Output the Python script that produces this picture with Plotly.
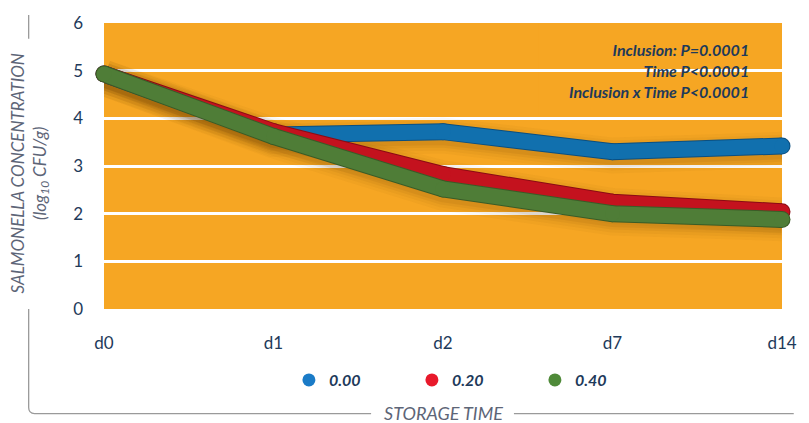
import plotly.graph_objects as go

# ---------------- data ----------------
days = ["d0", "d1", "d2", "d7", "d14"]
inclusion_000 = [4.93, 3.65, 3.72, 3.30, 3.42]
inclusion_020 = [4.93, 3.72, 2.82, 2.24, 2.04]
inclusion_040 = [4.93, 3.62, 2.52, 2.00, 1.88]
series_names = ["0.00", "0.20", "0.40"]
series_values = [inclusion_000, inclusion_020, inclusion_040]
line_colors = ["#1170ae", "#c4121e", "#4f7d37"]
edge_colors = ["#0b4f80", "#8a0c14", "#3a5c27"]
legend_colors = ["#1a7bc7", "#e8192b", "#4f8a39"]
y_ticks = [0, 1, 2, 3, 4, 5, 6]
stats_lines = ["Inclusion: P=0.0001", "Time P<0.0001", "Inclusion x Time P<0.0001"]

# ---------------- layout geometry (pixels) ----------------
W, H = 809, 423
L, R, T, B = 104, 12, 19, 114
PW, PH = W - L - R, H - T - B


def px(xp):
    return (xp - L) / PW


def py(yp):
    return (H - B - yp) / PH


ORANGE = "#f6a623"
NAVY = "#1e3a5a"
GREY = "#5d6577"
FONT = "Lato"

fig = go.Figure()

# soft shadows
for vals in series_values:
    shadow = [v - 0.08 for v in vals]
    for w, a in [(36, 0.035), (30, 0.045), (24, 0.06), (19, 0.07)]:
        fig.add_trace(go.Scatter(
            x=days, y=shadow, mode="lines",
            line=dict(color=f"rgba(90,45,0,{a})", width=w, shape="linear"),
            hoverinfo="skip", showlegend=False, cliponaxis=False))

# main lines (edge + fill)
for name, vals, col, edge in zip(series_names, series_values, line_colors, edge_colors):
    fig.add_trace(go.Scatter(
        x=days, y=vals, mode="lines+markers",
        line=dict(color=edge, width=17),
        marker=dict(color=edge, size=17, line=dict(width=0)),
        hoverinfo="skip", showlegend=False, cliponaxis=False))
    fig.add_trace(go.Scatter(
        x=days, y=vals, mode="lines+markers", name=name,
        line=dict(color=col, width=15),
        marker=dict(color=col, size=15, line=dict(width=0)),
        showlegend=False, cliponaxis=False))

# legend entries (dots only)
for name, col in zip(series_names, legend_colors):
    fig.add_trace(go.Scatter(
        x=[None], y=[None], mode="markers", name=name,
        marker=dict(color=col, size=13, symbol="circle")))

shapes = [
    # box behind the statistics text (hides the gridline at 5)
    dict(type="rect", xref="paper", yref="y", x0=px(548), x1=1.0, y0=4.06, y1=6,
         fillcolor=ORANGE, line=dict(width=0), layer="between"),
    # bracket lines
    dict(type="line", xref="paper", yref="paper", x0=px(27), x1=px(27), y0=py(11), y1=py(35),
         line=dict(color="#9a9a9a", width=1.3)),
    dict(type="path", xref="paper", yref="paper",
         path=f"M {px(27)},{py(309)} L {px(27)},{py(409)} Q {px(27)},{py(415)} {px(33)},{py(415)} L {px(377)},{py(415)}",
         line=dict(color="#9a9a9a", width=1.3)),
    dict(type="line", xref="paper", yref="paper", x0=px(523), x1=px(809), y0=py(415), y1=py(415),
         line=dict(color="#9a9a9a", width=1.3)),
]

annotations = [
    dict(text="<br>".join(f"<b><i>{s}</i></b>" for s in stats_lines),
         xref="paper", yref="paper", x=px(765), y=py(67.5), xanchor="right", yanchor="middle",
         align="right", showarrow=False, font=dict(family=FONT, size=16, color=NAVY)),
    dict(text="<i>SALMONELLA CONCENTRATION<br>(log<sub>10</sub> CFU/g)</i>",
         xref="paper", yref="paper", x=px(28), y=py(172), xanchor="center", yanchor="middle",
         textangle=-90, showarrow=False, font=dict(family=FONT, size=17, color=GREY)),
    dict(text="<i>STORAGE TIME</i>",
         xref="paper", yref="paper", x=px(451), y=py(414), xanchor="center", yanchor="middle",
         showarrow=False, font=dict(family=FONT, size=18, color=GREY)),
]

fig.update_layout(
    width=W, height=H,
    margin=dict(l=L, r=R, t=T, b=B),
    paper_bgcolor="white", plot_bgcolor=ORANGE,
    font=dict(family=FONT, color=NAVY),
    shapes=shapes, annotations=annotations,
    legend=dict(orientation="h", x=px(293), y=py(381), xanchor="left", yanchor="middle",
                font=dict(family=FONT, size=16, color=NAVY, weight="bold", style="italic"),
                entrywidth=78, itemwidth=30, bgcolor="rgba(0,0,0,0)"),
    xaxis=dict(type="category", categoryorder="array", categoryarray=days, range=[0, 4],
               showgrid=False, zeroline=False, showline=False, ticks="",
               tickfont=dict(family=FONT, size=17, color=NAVY), ticklabelstandoff=22),
    yaxis=dict(range=[0, 6], tickvals=y_ticks, showgrid=True, gridcolor="white", gridwidth=2.5,
               zeroline=False, showline=False, ticks="",
               tickfont=dict(family=FONT, size=17, color=NAVY), ticklabelstandoff=20),
)

fig.write_html("out.html")
